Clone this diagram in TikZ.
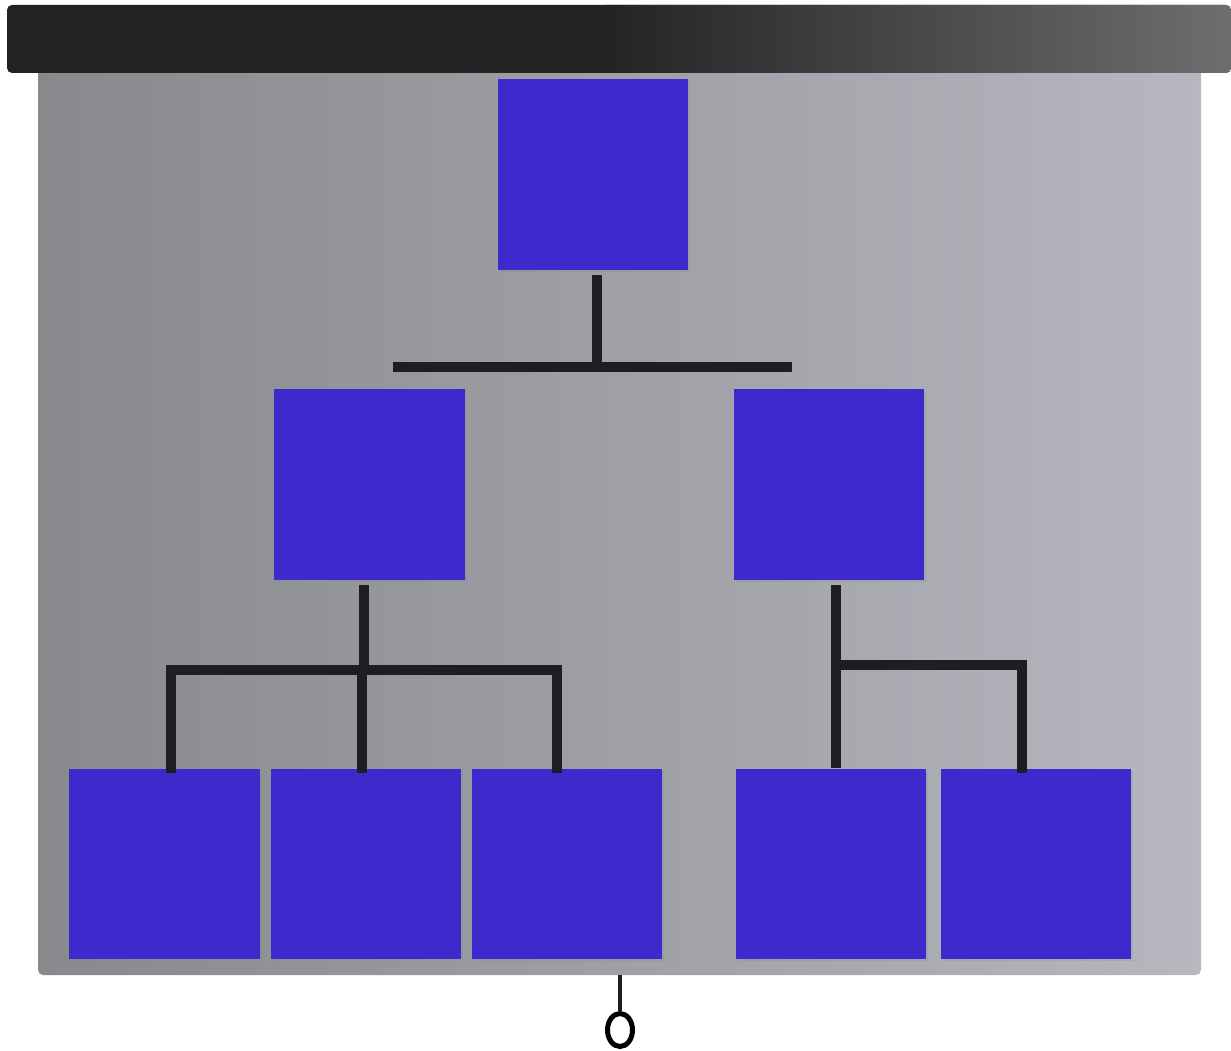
\documentclass[tikz,border=0pt]{standalone}
\usepackage{tikz}
\usetikzlibrary{shadows, positioning, shapes.geometric}
\definecolor{my_blue}{RGB}{62, 42, 204}
\definecolor{my_bardark}{RGB}{35, 35, 35}
\definecolor{my_barlight}{RGB}{110, 110, 112}
\definecolor{my_screenleft}{RGB}{136, 137, 140}
\definecolor{my_screenright}{RGB}{182, 183, 191}
\definecolor{my_line}{RGB}{30, 30, 32}
\tikzset {
  card/.style = {rectangle, fill=my_blue, minimum size=3.82cm, inner sep=0pt, drop shadow={opacity=0.2, shadow xshift=0.04cm, shadow yshift=-0.04cm}},
  link/.style = {draw=my_line, line width=0.2cm, line cap=rect},
  drop/.style = {draw=my_line, line width=0.2cm, shorten <=0.1cm},
  cord/.style = {draw=my_line, line width=0.09cm},
  ring/.style = {draw=black, ellipse, line width=0.1cm, minimum width=0.5cm, minimum height=0.66cm, inner sep=0pt}
}

\begin{document}
\begin{tikzpicture}[x=0.02cm, y=-0.02cm]
    \useasboundingbox (0,0) rectangle (1231,1051);

    % screen and bar
    \shade[left color=my_screenleft, right color=my_screenright, rounded corners=0.1cm]
        (38,60) -- (38,975) -- (1201,975) -- (1201,60) -- cycle;
    \fill[my_bardark, rounded corners=0.1cm] (7,5) rectangle (1231,73);
    \shade[left color=my_bardark, right color=my_barlight, rounded corners=0.1cm] (600,5) rectangle (1231,73);
    \coordinate (screenbot) at (620,975);

    % chart
    \node[card] (root) at (593,174.5) {};
    \node[card] (midl) at (369.5,484.5) {};
    \node[card] (midr) at (829,484.5) {};
    \node[card] (leafa) at (164.5,864) {};
    \node[card] (leafb) at (366,864) {};
    \node[card] (leafc) at (567,864) {};
    \node[card] (leafd) at (831,864) {};
    \node[card] (leafe) at (1036,864) {};

    \coordinate (bustop) at (597,367);
    \coordinate (busl) at (364,670);
    \coordinate (busr) at (836,665);
    \coordinate (dropa) at (171,670);
    \coordinate (dropb) at (362,670);
    \coordinate (dropc) at (557,670);
    \coordinate (drope) at (1022,665);

    \draw[drop] (root.south -| bustop) -- (bustop);
    \draw[link] (bustop -| 398,0) -- (bustop -| 787,0);
    \draw[drop] (midl.south -| busl) -- (busl);
    \draw[link] (dropa) -- (dropc);
    \draw[link] (dropa) -- (dropa |- leafa.north);
    \draw[link] (dropb) -- (dropb |- leafb.north);
    \draw[link] (dropc) -- (dropc |- leafc.north);
    \draw[drop] (midr.south -| busr) -- (busr |- leafd.north);
    \draw[link] (busr) -- (drope);
    \draw[link] (drope) -- (drope |- leafe.north);

    % pull ring
    \node[ring] (pull) at (620,1030) {};
    \draw[cord] (screenbot) -- (pull.north);

\end{tikzpicture}
\end{document}
